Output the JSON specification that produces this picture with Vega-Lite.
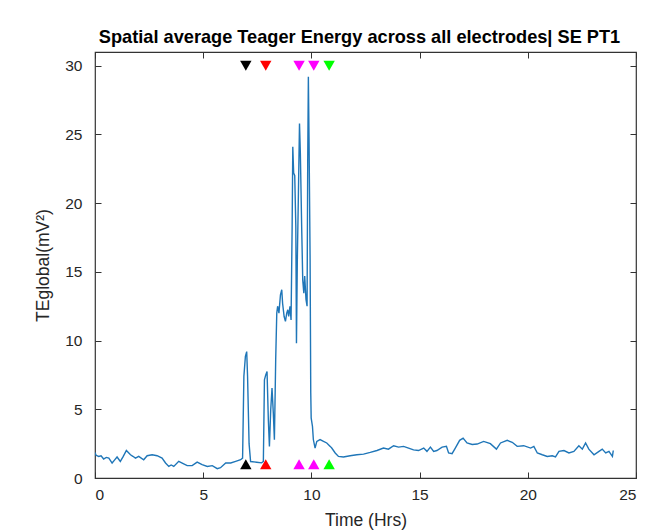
{
  "$schema": "https://vega.github.io/schema/vega-lite/v6.json",
  "width": 541,
  "height": 426,
  "autosize": "none",
  "padding": {"left": 95, "top": 52, "right": 27, "bottom": 54},
  "background": "white",
  "title": {
    "text": "Spatial average Teager Energy across all electrodes| SE PT1",
    "font": "Liberation Sans",
    "fontSize": 18.2,
    "fontWeight": "bold",
    "color": "#000000",
    "offset": 4,
    "dx": -6
  },
  "config": {
    "view": {"stroke": "#333333", "strokeWidth": 1.2},
    "axis": {
      "domain": false,
      "grid": false,
      "tickSize": -6,
      "tickColor": "#333333",
      "labelFont": "Liberation Sans",
      "labelFontSize": 15.5,
      "labelColor": "#262626",
      "titleFont": "Liberation Sans",
      "titleFontWeight": "normal",
      "titleFontSize": 17.5,
      "titleColor": "#262626"
    }
  },
  "datasets": {
    "te": [
      {"t": 0.0, "v": 1.85}, {"t": 0.05, "v": 1.65}, {"t": 0.17, "v": 1.57}, {"t": 0.28, "v": 1.62},
      {"t": 0.4, "v": 1.38}, {"t": 0.52, "v": 1.5}, {"t": 0.64, "v": 1.45}, {"t": 0.79, "v": 1.09},
      {"t": 0.9, "v": 1.3}, {"t": 1.02, "v": 1.53}, {"t": 1.17, "v": 1.21}, {"t": 1.3, "v": 1.55},
      {"t": 1.45, "v": 2.0}, {"t": 1.64, "v": 1.69}, {"t": 1.75, "v": 1.58}, {"t": 1.87, "v": 1.45},
      {"t": 2.02, "v": 1.57}, {"t": 2.25, "v": 1.33}, {"t": 2.41, "v": 1.62}, {"t": 2.64, "v": 1.69},
      {"t": 2.87, "v": 1.62}, {"t": 3.1, "v": 1.45}, {"t": 3.26, "v": 1.09}, {"t": 3.41, "v": 0.84},
      {"t": 3.52, "v": 0.95}, {"t": 3.64, "v": 0.84}, {"t": 3.87, "v": 1.21}, {"t": 4.03, "v": 1.09},
      {"t": 4.26, "v": 0.9}, {"t": 4.49, "v": 0.9}, {"t": 4.72, "v": 1.16}, {"t": 4.95, "v": 0.97},
      {"t": 5.19, "v": 0.84}, {"t": 5.42, "v": 0.9}, {"t": 5.65, "v": 0.68}, {"t": 5.8, "v": 0.75},
      {"t": 6.04, "v": 1.09}, {"t": 6.27, "v": 1.09}, {"t": 6.5, "v": 1.21}, {"t": 6.73, "v": 1.33},
      {"t": 6.82, "v": 1.45}, {"t": 6.88, "v": 7.4}, {"t": 6.95, "v": 8.85}, {"t": 7.01, "v": 9.2},
      {"t": 7.05, "v": 7.4}, {"t": 7.12, "v": 2.5}, {"t": 7.19, "v": 1.2}, {"t": 7.47, "v": 1.15},
      {"t": 7.7, "v": 1.1}, {"t": 7.78, "v": 1.2}, {"t": 7.83, "v": 7.15}, {"t": 7.89, "v": 7.5},
      {"t": 7.95, "v": 7.75}, {"t": 8.01, "v": 4.24}, {"t": 8.06, "v": 2.3}, {"t": 8.12, "v": 4.97},
      {"t": 8.18, "v": 6.55}, {"t": 8.24, "v": 4.72}, {"t": 8.29, "v": 2.79}, {"t": 8.35, "v": 8.6},
      {"t": 8.4, "v": 12.0}, {"t": 8.44, "v": 12.5}, {"t": 8.5, "v": 12.0}, {"t": 8.57, "v": 13.33},
      {"t": 8.63, "v": 13.7}, {"t": 8.67, "v": 12.7}, {"t": 8.74, "v": 11.75}, {"t": 8.8, "v": 11.4},
      {"t": 8.86, "v": 12.0}, {"t": 8.91, "v": 12.24}, {"t": 8.95, "v": 11.75}, {"t": 9.01, "v": 12.5},
      {"t": 9.06, "v": 11.5}, {"t": 9.11, "v": 18.3}, {"t": 9.14, "v": 24.1}, {"t": 9.18, "v": 22.2},
      {"t": 9.23, "v": 22.0}, {"t": 9.28, "v": 18.3}, {"t": 9.31, "v": 9.8}, {"t": 9.35, "v": 15.9},
      {"t": 9.4, "v": 20.7}, {"t": 9.45, "v": 25.8}, {"t": 9.49, "v": 23.6}, {"t": 9.55, "v": 18.3},
      {"t": 9.6, "v": 14.4}, {"t": 9.65, "v": 13.45}, {"t": 9.69, "v": 14.7}, {"t": 9.75, "v": 13.0},
      {"t": 9.8, "v": 12.5}, {"t": 9.83, "v": 23.1}, {"t": 9.86, "v": 29.2}, {"t": 9.89, "v": 24.8},
      {"t": 9.94, "v": 15.9}, {"t": 9.97, "v": 6.2}, {"t": 9.99, "v": 4.36}, {"t": 10.05, "v": 3.75},
      {"t": 10.09, "v": 2.8}, {"t": 10.17, "v": 2.18}, {"t": 10.25, "v": 2.66}, {"t": 10.4, "v": 2.8},
      {"t": 10.56, "v": 2.66}, {"t": 10.71, "v": 2.55}, {"t": 10.87, "v": 2.3}, {"t": 10.94, "v": 2.18},
      {"t": 11.1, "v": 1.82}, {"t": 11.25, "v": 1.57}, {"t": 11.48, "v": 1.53}, {"t": 11.79, "v": 1.62},
      {"t": 12.1, "v": 1.69}, {"t": 12.41, "v": 1.74}, {"t": 12.72, "v": 1.86}, {"t": 13.03, "v": 2.0},
      {"t": 13.33, "v": 2.18}, {"t": 13.56, "v": 2.1}, {"t": 13.8, "v": 2.35}, {"t": 14.03, "v": 2.25},
      {"t": 14.26, "v": 2.3}, {"t": 14.49, "v": 2.18}, {"t": 14.72, "v": 2.05}, {"t": 14.95, "v": 2.0},
      {"t": 15.19, "v": 2.18}, {"t": 15.34, "v": 1.94}, {"t": 15.5, "v": 2.25}, {"t": 15.65, "v": 1.94},
      {"t": 15.8, "v": 2.0}, {"t": 16.04, "v": 2.25}, {"t": 16.24, "v": 2.3}, {"t": 16.34, "v": 1.82},
      {"t": 16.5, "v": 1.77}, {"t": 16.65, "v": 2.18}, {"t": 16.85, "v": 2.74}, {"t": 17.01, "v": 2.9},
      {"t": 17.19, "v": 2.55}, {"t": 17.43, "v": 2.44}, {"t": 17.66, "v": 2.47}, {"t": 17.96, "v": 2.66},
      {"t": 18.27, "v": 2.5}, {"t": 18.55, "v": 2.1}, {"t": 18.74, "v": 2.55}, {"t": 19.05, "v": 2.74},
      {"t": 19.28, "v": 2.6}, {"t": 19.51, "v": 2.3}, {"t": 19.81, "v": 2.35}, {"t": 20.13, "v": 2.18},
      {"t": 20.28, "v": 2.3}, {"t": 20.44, "v": 1.82}, {"t": 20.67, "v": 1.69}, {"t": 20.9, "v": 1.57},
      {"t": 21.13, "v": 1.62}, {"t": 21.28, "v": 1.53}, {"t": 21.44, "v": 1.94}, {"t": 21.67, "v": 2.0},
      {"t": 21.9, "v": 1.82}, {"t": 22.13, "v": 1.94}, {"t": 22.36, "v": 2.35}, {"t": 22.52, "v": 2.1},
      {"t": 22.67, "v": 2.55}, {"t": 22.82, "v": 2.1}, {"t": 23.06, "v": 1.69}, {"t": 23.29, "v": 1.94},
      {"t": 23.44, "v": 2.1}, {"t": 23.6, "v": 1.82}, {"t": 23.75, "v": 1.94}, {"t": 23.91, "v": 1.57},
      {"t": 23.95, "v": 2.0}
    ],
    "marks": [
      {"t": 6.97, "v": 30, "dir": "down", "event": "black"},
      {"t": 7.89, "v": 30, "dir": "down", "event": "red"},
      {"t": 9.43, "v": 30, "dir": "down", "event": "magenta"},
      {"t": 10.11, "v": 30, "dir": "down", "event": "magenta"},
      {"t": 10.82, "v": 30, "dir": "down", "event": "green"},
      {"t": 6.97, "v": 1.0, "dir": "up", "event": "black"},
      {"t": 7.89, "v": 1.0, "dir": "up", "event": "red"},
      {"t": 9.43, "v": 1.0, "dir": "up", "event": "magenta"},
      {"t": 10.11, "v": 1.0, "dir": "up", "event": "magenta"},
      {"t": 10.82, "v": 1.0, "dir": "up", "event": "green"}
    ]
  },
  "layer": [
    {
      "data": {"name": "te"},
      "mark": {"type": "line", "color": "#1f76b8", "strokeWidth": 1.4, "clip": true},
      "encoding": {
        "x": {"field": "t", "type": "quantitative",
              "scale": {"domain": [0, 25], "nice": false},
              "axis": {"orient": "bottom", "values": [0, 5, 10, 15, 20, 25], "title": "Time (Hrs)", "labelPadding": 15, "titlePadding": 9}},
        "y": {"field": "v", "type": "quantitative",
              "scale": {"domain": [0, 31], "nice": false},
              "axis": {"orient": "left", "values": [0, 5, 10, 15, 20, 25, 30], "title": "TEglobal(mV²)", "labelPadding": 19, "titlePadding": 12}}
      }
    },
    {
      "data": {"name": "marks"},
      "mark": {"type": "point", "filled": true, "opacity": 1, "size": 130},
      "encoding": {
        "x": {"field": "t", "type": "quantitative",
              "axis": {"orient": "top", "values": [0, 5, 10, 15, 20, 25], "labels": false, "title": null}},
        "y": {"field": "v", "type": "quantitative",
              "axis": {"orient": "right", "values": [0, 5, 10, 15, 20, 25, 30], "labels": false, "title": null}},
        "shape": {"field": "dir", "type": "nominal",
                  "scale": {"domain": ["down", "up"], "range": ["triangle-down", "triangle-up"]}, "legend": null},
        "color": {"field": "event", "type": "nominal",
                  "scale": {"domain": ["black", "red", "magenta", "green"], "range": ["#000000", "#FF0000", "#FF00FF", "#00FF00"]}, "legend": null}
      }
    }
  ],
  "resolve": {"axis": {"x": "independent", "y": "independent"}}
}
